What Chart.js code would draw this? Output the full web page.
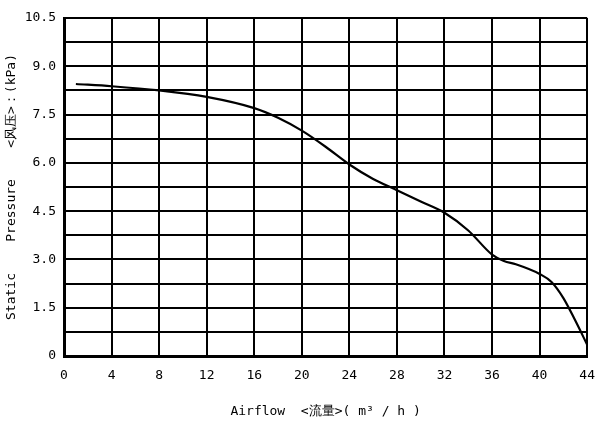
<!DOCTYPE html>
<html><head><meta charset="utf-8">
<script src="https://cdn.jsdelivr.net/npm/chart.js@4/dist/chart.umd.min.js"></script>
<style>body{margin:0;background:#fff}#wrap{width:607px;height:423px}</style>
</head><body><div id="wrap"><canvas id="c"></canvas></div>
<script>
"use strict";
// values
const airflow = [1, 4, 8, 12, 16, 18, 20, 22, 24, 26, 28, 30, 32, 34, 36, 37, 38, 40, 41, 42, 43, 44];
const pressure = [8.45, 8.38, 8.25, 8.05, 7.7, 7.4, 7.0, 6.5, 5.95, 5.5, 5.15, 4.8, 4.45, 3.9, 3.15, 2.95, 2.85, 2.55, 2.3, 1.8, 1.1, 0.35];
const xTicks = [0, 4, 8, 12, 16, 20, 24, 28, 32, 36, 40, 44];
const yLabels = ['0', '1.5', '3.0', '4.5', '6.0', '7.5', '9.0', '10.5'];

const font = {family: 'DejaVu Sans Mono', size: 13};
new Chart(document.getElementById('c'), {
  type: 'scatter',
  data: {datasets: [{
    data: airflow.map((x, i) => ({x: x, y: pressure[i]})),
    showLine: true, borderColor: '#000', borderWidth: 2.2, pointRadius: 0, tension: 0.4, cubicInterpolationMode: 'monotone'
  }]},
  options: {
    responsive: true, maintainAspectRatio: false, animation: false,
    layout: {padding: {top: 18, right: 6, left: 0, bottom: 0}},
    plugins: {legend: {display: false}, tooltip: {enabled: false}},
    scales: {
      x: {
        min: 0, max: 44,
        afterBuildTicks: s => { s.ticks = xTicks.map(v => ({value: v})); },
        afterFit: s => { s.height = 67; },
        grid: {color: '#000', lineWidth: 2, drawTicks: false},
        border: {color: '#000', width: 3},
        ticks: {color: '#000', font: font, padding: 12},
        title: {display: true, text: 'Airflow  <流量>( m³ / h )', color: '#000', font: font, padding: {top: 6}}
      },
      y: {
        min: 0, max: 10.5,
        ticks: {stepSize: 0.75, color: '#000', font: font, padding: 8,
          callback: v => { const k = Math.round(v / 1.5 * 100) / 100; return Number.isInteger(k) ? yLabels[k] : ''; }},
        afterFit: s => { s.width = 64; },
        grid: {color: '#000', lineWidth: 2, drawTicks: false},
        border: {color: '#000', width: 3},
        title: {display: true, text: 'Static    Pressure    <风压>：(kPa)', color: '#000', font: font, padding: {bottom: 2}}
      }
    }
  }
});
</script></body></html>
